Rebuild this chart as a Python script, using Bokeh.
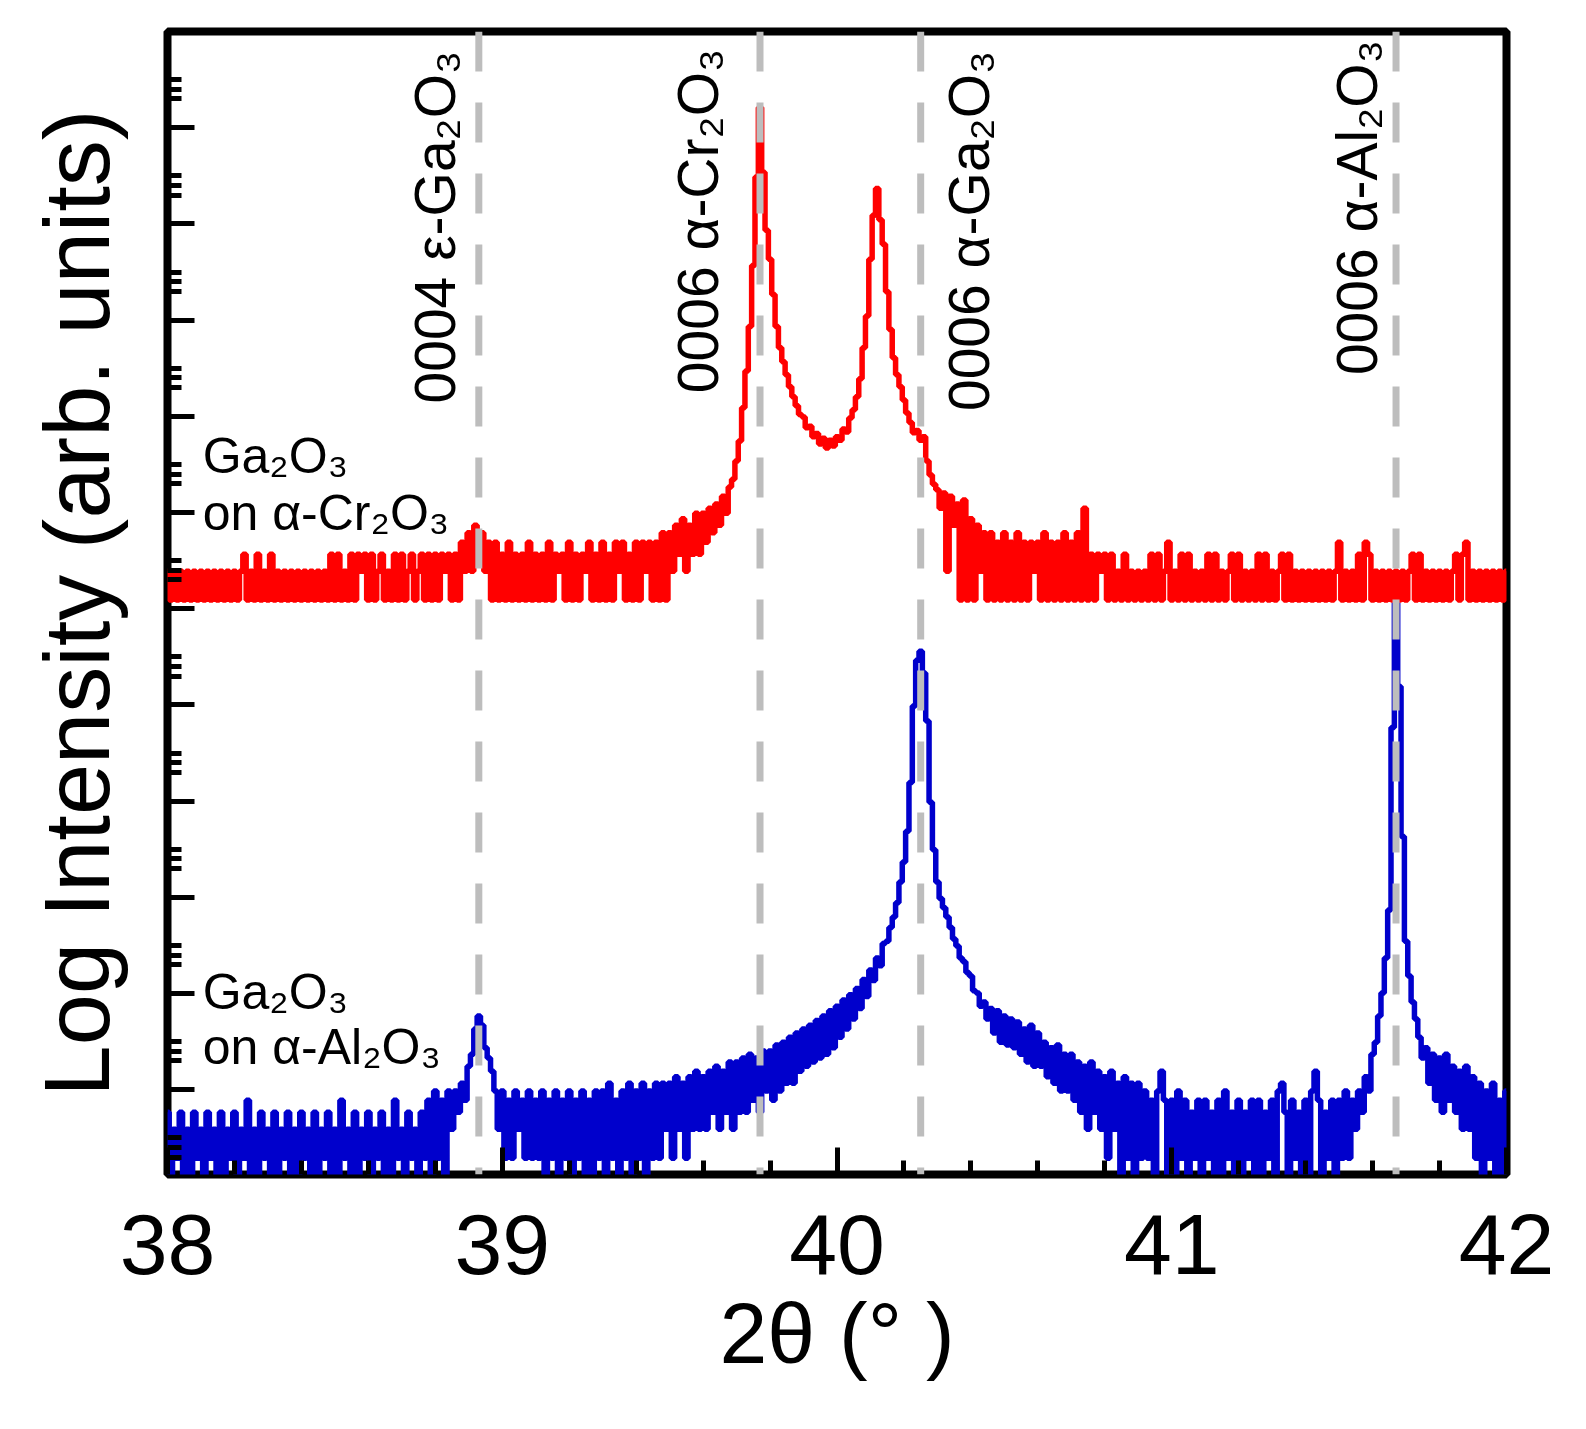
import numpy as np
from bokeh.plotting import figure
from bokeh.models import Label, Span, FixedTicker
from bokeh.embed import file_html
from bokeh.resources import INLINE

# ---------------- data ----------------
two_theta_start = 38.00
two_theta_step = 0.01

# detector counts, 0.01 deg apart, 38.00 .. 42.00
red_counts = [
    2, 1, 2, 1, 2, 1, 2, 1, 2, 1,   # 38.0
    2, 1, 2, 1, 2, 1, 2, 1, 2, 1,   # 38.1
    2, 1, 2, 3, 1, 2, 1, 3, 1, 2,   # 38.2
    1, 3, 1, 2, 1, 2, 1, 2, 1, 2,   # 38.3
    1, 2, 1, 2, 1, 2, 1, 2, 1, 3,   # 38.4
    1, 3, 1, 2, 1, 3, 1, 3, 2, 3,   # 38.5
    1, 3, 1, 2, 3, 1, 2, 1, 3, 1,   # 38.6
    3, 1, 2, 3, 1, 2, 3, 1, 3, 1,   # 38.7
    3, 1, 3, 2, 3, 1, 3, 1, 4, 2,   # 38.8
    5, 2, 6, 3, 5, 2, 4, 1, 4, 1,   # 38.9
    3, 1, 4, 1, 3, 1, 3, 1, 4, 1,   # 39.0
    3, 1, 3, 1, 4, 1, 3, 2, 3, 1,   # 39.1
    4, 1, 3, 1, 3, 2, 4, 1, 3, 1,   # 39.2
    4, 1, 3, 1, 4, 2, 4, 1, 3, 1,   # 39.3
    4, 1, 4, 2, 4, 1, 4, 1, 5, 1,   # 39.4
    5, 2, 6, 3, 7, 2, 6, 3, 8, 3,   # 39.5
    8, 4, 9, 5, 10, 6, 12, 8, 15, 18,   # 39.6
    28, 45, 100, 240, 700, 3000, 25000, 132000, 28000, 7000,   # 39.7
    3500, 1500, 700, 420, 300, 220, 165, 130, 105, 85,   # 39.8
    80, 62, 64, 50, 54, 42, 48, 38, 46, 40,   # 39.9
    50, 46, 60, 56, 78, 95, 130, 200, 420, 900,   # 40.0
    3500, 10000, 19000, 9000, 5000, 1600, 650, 330, 220, 165,   # 40.1
    120, 88, 70, 55, 58, 46, 50, 28, 20, 16,   # 40.2
    14, 9, 13, 2, 12, 6, 10, 1, 11, 1,   # 40.3
    7, 1, 6, 2, 5, 1, 5, 1, 4, 1,   # 40.4
    5, 1, 4, 1, 5, 1, 4, 1, 4, 2,   # 40.5
    4, 1, 5, 1, 4, 1, 4, 1, 5, 1,   # 40.6
    4, 1, 5, 1, 9, 1, 3, 1, 3, 2,   # 40.7
    3, 1, 3, 1, 2, 1, 3, 1, 2, 1,   # 40.8
    2, 1, 2, 1, 3, 1, 3, 1, 2, 4,   # 40.9
    1, 2, 1, 3, 1, 3, 1, 2, 1, 2,   # 41.0
    1, 3, 1, 3, 1, 2, 1, 2, 3, 1,   # 41.1
    3, 1, 2, 1, 2, 1, 3, 1, 3, 1,   # 41.2
    2, 1, 2, 3, 1, 3, 1, 2, 1, 2,   # 41.3
    1, 2, 1, 2, 1, 2, 1, 2, 1, 2,   # 41.4
    4, 1, 2, 1, 2, 1, 3, 1, 4, 3,   # 41.5
    1, 2, 1, 2, 1, 2, 1, 2, 1, 2,   # 41.6
    1, 2, 3, 1, 3, 1, 2, 1, 2, 1,   # 41.7
    2, 1, 2, 1, 2, 3, 1, 3, 4, 1,   # 41.8
    2, 1, 2, 1, 2, 1, 2, 1, 2, 1,   # 41.9
    2,                              # 42.0
]

blue_counts = [
    3, 0, 2, 1, 3, 0, 2, 0, 3, 1,   # 38.0
    2, 0, 3, 1, 2, 0, 3, 0, 2, 1,   # 38.1
    3, 0, 2, 1, 4, 0, 2, 0, 3, 1,   # 38.2
    2, 0, 3, 0, 2, 1, 3, 0, 2, 0,   # 38.3
    3, 1, 2, 0, 3, 0, 2, 1, 3, 0,   # 38.4
    2, 0, 4, 1, 2, 0, 3, 0, 2, 1,   # 38.5
    3, 0, 2, 1, 3, 0, 2, 0, 4, 1,   # 38.6
    2, 0, 3, 1, 2, 0, 3, 1, 4, 0,   # 38.7
    5, 1, 4, 0, 5, 2, 5, 3, 6, 4,   # 38.8
    9, 12, 22, 30, 24, 14, 11, 8, 5, 2,   # 38.9
    5, 1, 4, 1, 5, 2, 4, 1, 5, 1,   # 39.0
    4, 1, 5, 0, 4, 1, 5, 0, 4, 1,   # 39.1
    5, 0, 4, 1, 5, 0, 4, 0, 5, 1,   # 39.2
    5, 0, 6, 1, 4, 0, 5, 1, 6, 0,   # 39.3
    5, 1, 6, 0, 5, 1, 6, 1, 6, 2,   # 39.4
    6, 1, 7, 2, 6, 1, 7, 2, 8, 2,   # 39.5
    7, 2, 8, 3, 9, 2, 8, 3, 10, 2,   # 39.6
    10, 3, 11, 3, 12, 4, 11, 3, 13, 5,   # 39.7
    13, 4, 15, 5, 16, 6, 18, 6, 20, 8,   # 39.8
    22, 9, 24, 10, 27, 11, 30, 12, 34, 14,   # 39.9
    38, 18, 44, 22, 50, 28, 58, 36, 72, 48,   # 40.0
    90, 70, 120, 100, 170, 180, 250, 320, 450, 740,   # 40.1
    1200, 2500, 8000, 50000, 150000, 186000, 110000, 35000, 5000, 1600,   # 40.2
    740, 500, 400, 320, 250, 190, 160, 120, 110, 85,   # 40.3
    78, 55, 52, 38, 42, 28, 36, 20, 34, 16,   # 40.4
    30, 15, 28, 14, 26, 12, 22, 10, 24, 9,   # 40.5
    20, 9, 16, 7, 14, 6, 15, 5, 12, 5,   # 40.6
    12, 4, 10, 3, 9, 2, 10, 3, 8, 2,   # 40.7
    7, 1, 8, 2, 6, 0, 7, 1, 6, 0,   # 40.8
    6, 1, 5, 1, 4, 0, 5, 8, 4, 0,   # 40.9
    4, 0, 5, 1, 4, 0, 3, 1, 4, 0,   # 41.0
    4, 1, 3, 0, 4, 0, 5, 1, 3, 0,   # 41.1
    4, 0, 3, 1, 4, 0, 4, 0, 3, 1,   # 41.2
    4, 0, 5, 6, 3, 0, 4, 1, 3, 0,   # 41.3
    4, 0, 5, 8, 4, 0, 3, 1, 4, 0,   # 41.4
    4, 1, 5, 1, 4, 2, 5, 3, 7, 5,   # 41.5
    12, 16, 30, 52, 120, 380, 30000, 590000, 80000, 2200,   # 41.6
    180, 78, 42, 28, 18, 11, 14, 6, 12, 4,   # 41.7
    11, 3, 12, 4, 9, 3, 8, 2, 9, 2,   # 41.8
    7, 1, 6, 0, 5, 1, 6, 0, 4, 0,   # 41.9
    5,                              # 42.0
]

# vertical offsets (decades) used to stack the two scans
red_offset = 5.09
blue_offset = -0.71
zero_floor = 0.3

reflection_positions = [38.93, 39.77, 40.25, 41.67]
reflection_labels = ["0004 ε-Ga₂O₃", "0006 α-Cr₂O₃", "0006 α-Ga₂O₃", "0006 α-Al₂O₃"]

sample_lines = [["Ga₂O₃", "on α-Cr₂O₃"], ["Ga₂O₃", "on α-Al₂O₃"]]

x_ticks = [38, 39, 40, 41, 42]
x_tick_labels = ["38", "39", "40", "41", "42"]
x_minor_ticks = [38.2, 38.4, 38.6, 38.8, 39.2, 39.4, 39.6, 39.8,
                 40.2, 40.4, 40.6, 40.8, 41.2, 41.4, 41.6, 41.8]
y_decades = list(range(-1, 12))
y_minor_steps = [0.3, 0.4, 0.5]

# ---------------- figure ----------------
FONT = "Liberation Sans"
x = np.round(two_theta_start + two_theta_step * np.arange(len(red_counts)), 3)
red_y = np.log10(np.maximum(np.array(red_counts, float), zero_floor)) + red_offset
blue_y = np.log10(np.maximum(np.array(blue_counts, float), zero_floor)) + blue_offset

W, H = 1570, 1425
LEFT, TOP, FW, FH = 167, 31, 1339, 1143
p = figure(width=W, height=H,
           x_range=(38, 42), y_range=(-0.88, 11.0),
           output_backend="svg", toolbar_location=None,
           min_border_left=LEFT, min_border_top=TOP,
           min_border_right=W - LEFT - FW, min_border_bottom=H - TOP - FH)
p.background_fill_color = "white"
p.border_fill_color = "white"
p.grid.visible = False
p.outline_line_color = "black"
p.outline_line_width = 8

p.step(x, blue_y, mode="center", line_color="#0000cc", line_width=5.5)
p.step(x, red_y, mode="center", line_color="#ff0000", line_width=5.5)

for pos in reflection_positions:
    p.add_layout(Span(location=pos, dimension="height", line_color="#bdbdbd",
                      line_width=7, line_dash="40 31"))

label_anchor = [(38.80, 10.80), (39.586, 10.82), (40.393, 10.80), (41.552, 10.91)]
for (lx, ly), txt in zip(label_anchor, reflection_labels):
    p.add_layout(Label(x=lx, y=ly, text=txt, angle=np.pi / 2,
                       text_align="right", text_baseline="middle",
                       text_font=FONT, text_font_size="57px", text_color="black"))

sample_anchor = [(38.105, 6.59, 6.00), (38.105, 1.02, 0.45)]
for (lx, y1, y2), lines in zip(sample_anchor, sample_lines):
    for yy, txt in zip((y1, y2), lines):
        p.add_layout(Label(x=lx, y=yy, text=txt, text_align="left",
                           text_baseline="middle", text_font=FONT,
                           text_font_size="50px", text_color="black"))

# axes
p.xaxis.ticker = FixedTicker(ticks=x_ticks, minor_ticks=x_minor_ticks)
p.xaxis.major_label_overrides = dict(zip(x_ticks, x_tick_labels))
y_major = [float(d) for d in y_decades]
y_minor = [d + s for d in y_decades for s in y_minor_steps]
p.yaxis.ticker = FixedTicker(ticks=y_major, minor_ticks=y_minor)
p.yaxis.major_label_overrides = {d: "" for d in y_major}

for ax in (p.xaxis[0], p.yaxis[0]):
    ax.axis_line_color = None
    ax.major_tick_in = 27
    ax.major_tick_out = 0
    ax.minor_tick_in = 14
    ax.minor_tick_out = 0
    ax.major_tick_line_width = 5
    ax.minor_tick_line_width = 5
    ax.major_tick_line_color = "black"
    ax.minor_tick_line_color = "black"
    ax.axis_label_text_font = FONT
    ax.axis_label_text_font_style = "normal"
    ax.axis_label_text_color = "black"
    ax.major_label_text_font = FONT
    ax.major_label_text_color = "black"

p.xaxis.axis_label = "2θ (° )"
p.xaxis.major_label_text_font_size = "86px"
p.xaxis.axis_label_text_font_size = "86px"
p.xaxis.major_label_standoff = 40
p.xaxis.axis_label_standoff = 8

p.yaxis.axis_label = "Log Intensity (arb. units)"
p.yaxis.axis_label_text_font_size = "92px"
p.yaxis.major_label_standoff = 0
p.yaxis.axis_label_standoff = 40

open("out.html", "w").write(file_html(p, INLINE))
